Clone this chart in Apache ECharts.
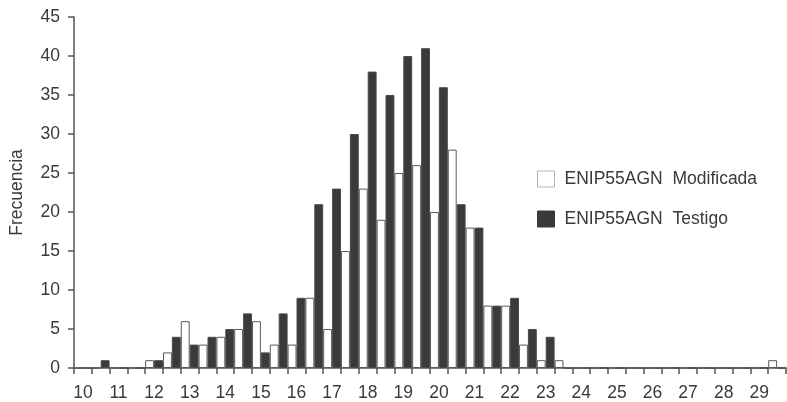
<!DOCTYPE html>
<html>
<head>
<meta charset="utf-8">
<script src="https://cdn.jsdelivr.net/npm/echarts@6/dist/echarts.min.js"></script>
<style>
  html, body { margin: 0; padding: 0; background: #fff; }
  #chart { width: 787px; height: 402px; }
</style>
</head>
<body>
<div id="chart"></div>
<script>
// Half-unit classes from 10 to 29.5
const categories = ['10','10.5','11','11.5','12','12.5','13','13.5','14','14.5',
  '15','15.5','16','16.5','17','17.5','18','18.5','19','19.5',
  '20','20.5','21','21.5','22','22.5','23','23.5','24','24.5',
  '25','25.5','26','26.5','27','27.5','28','28.5','29','29.5'];

const modificada = [0,0,0,0,1,2,6,3,4,5,
  6,3,3,9,5,15,23,19,25,26,
  20,28,18,8,8,3,1,1,0,0,
  0,0,0,0,0,0,0,0,0,1];

const testigo = [0,1,0,0,1,4,3,4,5,7,
  2,7,9,21,23,30,38,35,40,41,
  36,21,18,8,9,5,4,0,0,0,
  0,0,0,0,0,0,0,0,0,0];

const yTicks = { min: 0, max: 45, step: 5 };

const seriesNames = ['ENIP55AGN  Modificada', 'ENIP55AGN  Testigo'];

const textColor = '#3a3a3a';
const axisColor = '#555';
const font = 'Liberation Sans, Arial, sans-serif';
const fontSize = 17.5;

const chart = echarts.init(document.getElementById('chart'), null, { renderer: 'canvas' });

chart.setOption({
  animation: false,
  backgroundColor: '#fff',
  grid: { left: 73, right: 1, top: 17, bottom: 33, containLabel: false },
  legend: {
    orient: 'vertical',
    left: 532,
    top: 165,
    itemWidth: 17,
    itemHeight: 16,
    itemGap: 22,
    textStyle: { fontFamily: font, fontSize: fontSize, color: textColor, padding: [0, 0, 0, 5] },
    data: [
      { name: seriesNames[0], icon: 'rect', itemStyle: { color: '#fff', borderColor: '#b5b5b5', borderWidth: 1 } },
      { name: seriesNames[1], icon: 'rect', itemStyle: { color: '#3a3a3a', borderColor: '#3a3a3a', borderWidth: 1 } }
    ]
  },
  xAxis: {
    type: 'category',
    data: categories,
    boundaryGap: true,
    axisLine: { lineStyle: { color: axisColor, width: 1.5 } },
    axisTick: { show: true, interval: 0, length: 6, lineStyle: { color: axisColor, width: 1.5 } },
    axisLabel: { interval: 1, margin: 16, fontFamily: font, fontSize: fontSize, color: textColor }
  },
  yAxis: {
    type: 'value',
    min: yTicks.min,
    max: yTicks.max,
    interval: yTicks.step,
    name: 'Frecuencia',
    nameLocation: 'middle',
    nameGap: 48,
    nameRotate: 90,
    nameTextStyle: { fontFamily: font, fontSize: fontSize, color: textColor },
    axisLine: { show: true, lineStyle: { color: axisColor, width: 1.5 } },
    axisTick: { show: true, length: 6, lineStyle: { color: axisColor, width: 1.5 } },
    axisLabel: { margin: 14, fontFamily: font, fontSize: fontSize, color: textColor },
    splitLine: { show: false }
  },
  series: [
    {
      name: seriesNames[0],
      type: 'bar',
      data: modificada,
      barWidth: '50%',
      barGap: '0%',
      itemStyle: { color: '#fff', borderColor: '#5a5a5a', borderWidth: 1 }
    },
    {
      name: seriesNames[1],
      type: 'bar',
      data: testigo,
      barWidth: '50%',
      barGap: '0%',
      itemStyle: { color: '#3a3a3a', borderColor: '#4a4a4a', borderWidth: 1 }
    }
  ]
});
</script>
</body>
</html>
